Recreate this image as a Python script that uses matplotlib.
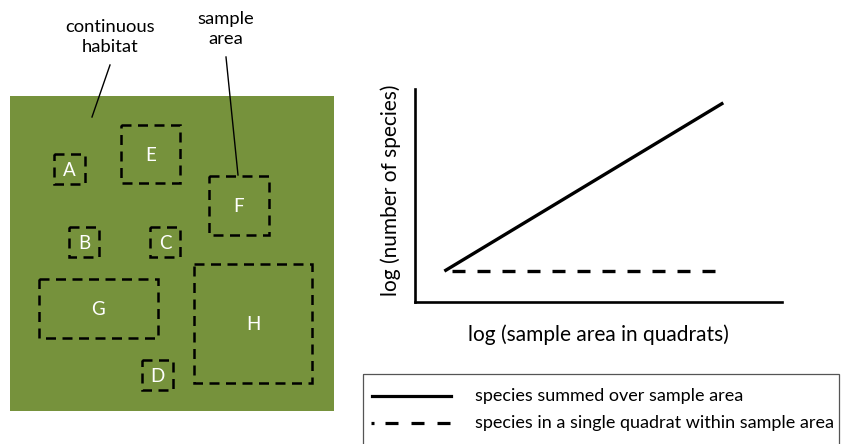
import numpy as np
import matplotlib
matplotlib.use('Agg')
import matplotlib.pyplot as plt
from matplotlib.patches import Rectangle

plt.rcParams['font.family'] = ['Lato', 'DejaVu Sans']

W, H = 844, 444
GREEN = '#76923C'

# habitat block and quadrat groups, in picture pixels (x0, y0, x1, y1)
habitat = (10, 96, 334, 411)
quad_names = ['A', 'B', 'C', 'D', 'E', 'F', 'G', 'H']
quad_boxes = [
    (54, 154, 85, 184),
    (69, 227, 99, 257),
    (150, 227, 180, 257),
    (142, 360, 173, 390),
    (121, 125, 180, 183),
    (209, 176, 269, 235),
    (39, 279, 158, 338),
    (194, 264, 312, 383),
]

# species-area sketch (arbitrary log units)
log_area = [0.08, 0.84]
log_species_summed = [0.145, 0.935]
log_species_single = [0.145, 0.145]

legend_labels = ['species summed over sample area',
                 'species in a single quadrat within sample area']

fig = plt.figure(figsize=(W / 100, H / 100), dpi=100)

# left panel, drawn in pixel units
ax = fig.add_axes([0, 0, 1, 1])
ax.set_xlim(0, W)
ax.set_ylim(H, 0)
ax.axis('off')

x0, y0, x1, y1 = habitat
ax.add_patch(Rectangle((x0, y0), x1 - x0, y1 - y0, facecolor=GREEN,
                       edgecolor='none', zorder=1))
for name, (bx0, by0, bx1, by1) in zip(quad_names, quad_boxes):
    ax.add_patch(Rectangle((bx0, by0), bx1 - bx0, by1 - by0, fill=False,
                           edgecolor='black', lw=1.8, linestyle=(0, (4, 2.6)),
                           zorder=2))
    ax.text((bx0 + bx1) / 2, (by0 + by1) / 2 + 1, name, color='white',
            fontsize=13.5, ha='center', va='center', zorder=3)

# callouts
ax.text(110, 37, 'continuous\nhabitat', ha='center', va='center',
        fontsize=13.2, linespacing=1.25)
ax.plot([110, 92], [65, 117], color='black', lw=1.0)
ax.text(226, 29, 'sample\narea', ha='center', va='center',
        fontsize=13.2, linespacing=1.25)
ax.plot([226, 238], [57, 175], color='black', lw=1.0)

# legend box (runs off the bottom edge)
ax.add_patch(Rectangle((363, 374), 476, 80, fill=False, edgecolor='#555555',
                       lw=0.9, zorder=1))
ax.plot([372, 451], [396, 396], color='black', lw=2.3)
ax.plot([371, 373.5], [423, 423], color='black', lw=2.3, solid_capstyle='butt')
ax.plot([385, 451], [423, 423], color='black', lw=2.3,
        linestyle=(0, (4.07, 4.07)))
ax.text(475, 396, legend_labels[0], ha='left', va='center', fontsize=13.0)
ax.text(475, 423, legend_labels[1], ha='left', va='center', fontsize=13.0)

# right panel: species-area curve
left, right, top, bottom = 415, 782, 89, 302
axr = fig.add_axes([left / W, 1 - bottom / H, (right - left) / W,
                    (bottom - top) / H])
axr.set_xlim(0, 1)
axr.set_ylim(0, 1)
axr.plot(log_area, log_species_summed, color='black', lw=2.4,
         solid_capstyle='butt')
axr.plot([0.101, log_area[1]], log_species_single, color='black', lw=2.4,
         linestyle=(0, (3.9, 3.6)))
for s in ['top', 'right']:
    axr.spines[s].set_visible(False)
for s in ['left', 'bottom']:
    axr.spines[s].set_linewidth(1.9)
axr.set_xticks([])
axr.set_yticks([])
axr.set_xlabel('log (sample area in quadrats)', fontsize=15, labelpad=16)
axr.set_ylabel('log (number of species)', fontsize=15)
axr.yaxis.set_label_coords(-0.038, 0.526)
axr.patch.set_alpha(0)

fig.savefig('out.png', dpi=100)
